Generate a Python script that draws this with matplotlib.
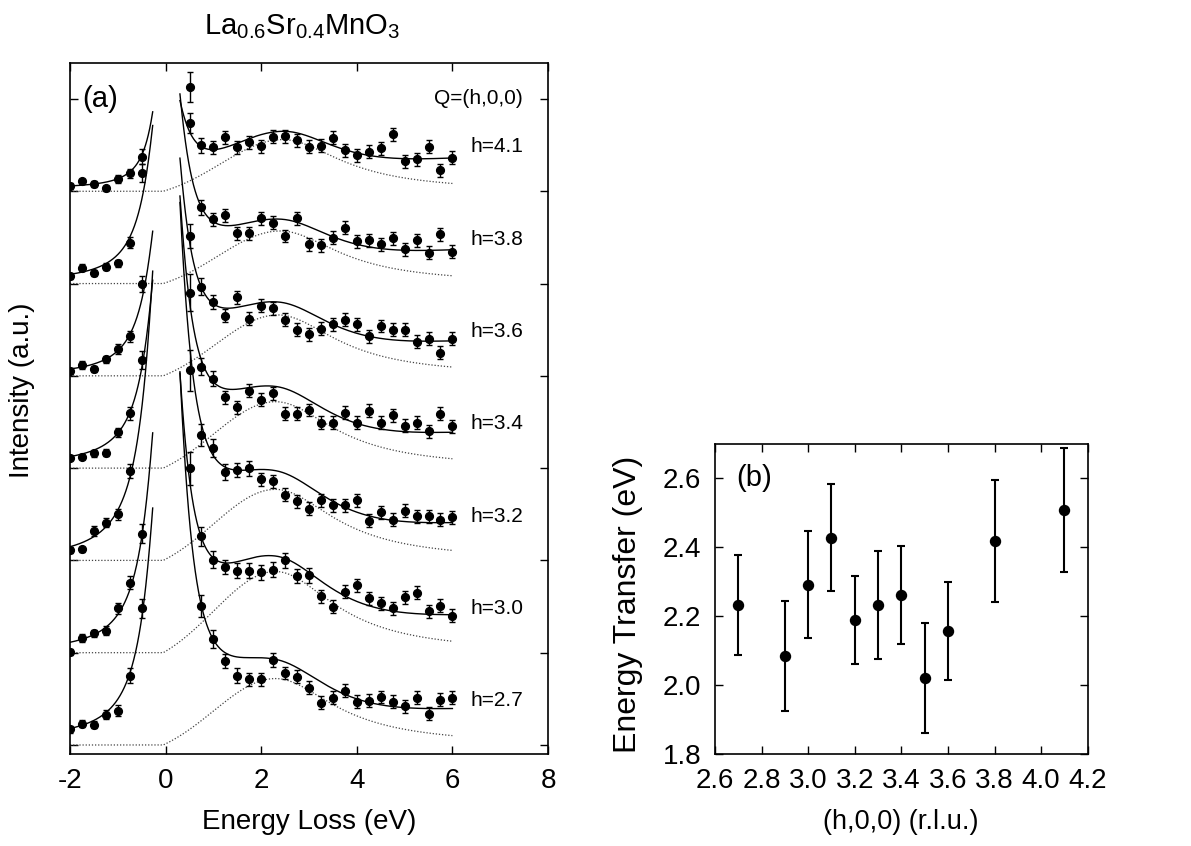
import numpy as np
import matplotlib
matplotlib.use('Agg')
import matplotlib.pyplot as plt

plt.rcParams['font.family'] = ['Liberation Sans', 'DejaVu Sans']
plt.rcParams['mathtext.default'] = 'regular'

# ---------------- Panel (a) data ----------------
h_labels = ['h=4.1', 'h=3.8', 'h=3.6', 'h=3.4', 'h=3.2', 'h=3.0', 'h=2.7']
offsets = [6, 5, 4, 3, 2, 1, 0]

E_left = [-2.0, -1.75, -1.5, -1.25, -1.0, -0.75, -0.5]
E_right = [0.5, 0.75, 1.0, 1.25, 1.5, 1.75, 2.0, 2.25, 2.5, 2.75, 3.0, 3.25,
           3.5, 3.75, 4.0, 4.25, 4.5, 4.75, 5.0, 5.25, 5.5, 5.75, 6.0]

nan = float('nan')
I_left_41 = [0.056, 0.107, 0.078, 0.031, 0.132, 0.194, 0.374]
I_left_38 = [0.081, 0.171, 0.117, 0.182, 0.219, 0.442, 1.20]
I_left_36 = [0.055, 0.117, 0.074, 0.179, 0.29, 0.431, 0.995]
I_left_34 = [0.113, 0.124, 0.16, 0.167, 0.388, 0.594, 1.17]
I_left_32 = [0.113, 0.12, 0.32, 0.41, 0.50, 0.97, nan]
I_left_30 = [0.01, 0.16, 0.21, 0.24, 0.48, 0.76, 1.29]
I_left_27 = [0.17, 0.23, 0.22, 0.33, 0.37, 0.75, 1.48]

I_right_41 = [0.74, 0.50, 0.476, 0.584, 0.476, 0.53, 0.49, 0.59, 0.598, 0.555, 0.482, 0.493,
              0.58, 0.446, 0.392, 0.428, 0.465, 0.62, 0.327, 0.345, 0.482, 0.23, 0.363]
I_right_38 = [2.13, 0.826, 0.696, 0.742, 0.544, 0.544, 0.706, 0.659, 0.515, 0.706, 0.425, 0.414,
              0.496, 0.605, 0.46, 0.471, 0.425, 0.49, 0.374, 0.471, 0.334, 0.536, 0.345]
I_right_36 = [1.52, 0.965, 0.80, 0.65, 0.85, 0.62, 0.76, 0.73, 0.61, 0.50, 0.45, 0.51,
              0.56, 0.61, 0.56, 0.43, 0.54, 0.50, 0.50, 0.37, 0.40, 0.25, 0.40]
I_right_34 = [1.90, 1.10, 0.97, 0.77, 0.66, 0.84, 0.74, 0.81, 0.59, 0.59, 0.63, 0.49,
              0.49, 0.60, 0.49, 0.62, 0.49, 0.575, 0.46, 0.49, 0.40, 0.59, 0.456]
I_right_32 = [2.06, 1.36, 1.22, 0.96, 0.98, 1.00, 0.88, 0.86, 0.71, 0.64, 0.56, 0.65,
              0.60, 0.60, 0.65, 0.43, 0.52, 0.44, 0.54, 0.48, 0.48, 0.44, 0.47]
I_right_30 = [2.00, 1.26, 1.01, 0.93, 0.89, 0.89, 0.87, 0.90, 1.00, 0.83, 0.84, 0.61,
              0.50, 0.66, 0.73, 0.59, 0.535, 0.48, 0.60, 0.65, 0.45, 0.51, 0.40]
I_right_27 = [nan, 1.51, 1.15, 0.91, 0.75, 0.71, 0.71, 0.92, 0.78, 0.74, 0.62, 0.46,
              0.51, 0.59, 0.47, 0.48, 0.52, 0.47, 0.42, 0.51, 0.34, 0.49, 0.51]

err_left_41 = [0.03, 0.03, 0.03, 0.03, 0.04, 0.05, 0.08]
err_left_38 = [0.03, 0.04, 0.03, 0.04, 0.04, 0.06, 0.10]
err_left_36 = [0.03, 0.04, 0.03, 0.04, 0.05, 0.06, 0.09]
err_left_34 = [0.03, 0.03, 0.04, 0.04, 0.05, 0.07, 0.10]
err_left_32 = [0.03, 0.03, 0.05, 0.05, 0.06, 0.08, nan]
err_left_30 = [0.03, 0.04, 0.04, 0.05, 0.06, 0.07, 0.10]
err_left_27 = [0.04, 0.04, 0.04, 0.05, 0.06, 0.08, 0.10]

err_right_41 = [0.11, 0.08, 0.07, 0.07, 0.07, 0.07, 0.07, 0.07, 0.07, 0.07, 0.07, 0.07,
                0.07, 0.07, 0.07, 0.07, 0.07, 0.07, 0.07, 0.07, 0.07, 0.07, 0.07]
err_right_38 = [0.16, 0.08, 0.07, 0.07, 0.07, 0.07, 0.07, 0.07, 0.07, 0.07, 0.07, 0.07,
                0.07, 0.07, 0.07, 0.07, 0.07, 0.07, 0.07, 0.07, 0.07, 0.07, 0.07]
err_right_36 = [0.13, 0.09, 0.08, 0.07, 0.07, 0.07, 0.07, 0.07, 0.07, 0.07, 0.07, 0.07,
                0.07, 0.07, 0.07, 0.07, 0.07, 0.07, 0.07, 0.07, 0.07, 0.07, 0.07]
err_right_34 = [0.20, 0.09, 0.08, 0.07, 0.07, 0.07, 0.07, 0.07, 0.07, 0.07, 0.07, 0.07,
                0.07, 0.07, 0.07, 0.07, 0.07, 0.07, 0.07, 0.07, 0.07, 0.07, 0.07]
err_right_32 = [0.22, 0.12, 0.10, 0.09, 0.08, 0.08, 0.07, 0.07, 0.07, 0.07, 0.07, 0.07,
                0.07, 0.07, 0.07, 0.07, 0.07, 0.07, 0.07, 0.07, 0.07, 0.07, 0.07]
err_right_30 = [0.18, 0.10, 0.09, 0.08, 0.08, 0.08, 0.08, 0.08, 0.08, 0.08, 0.08, 0.07,
                0.07, 0.07, 0.07, 0.07, 0.07, 0.07, 0.07, 0.07, 0.07, 0.07, 0.07]
err_right_27 = [nan, 0.12, 0.10, 0.08, 0.08, 0.07, 0.07, 0.08, 0.07, 0.07, 0.07, 0.07,
                0.07, 0.07, 0.07, 0.07, 0.07, 0.07, 0.07, 0.07, 0.07, 0.07, 0.07]

I_left = [I_left_41, I_left_38, I_left_36, I_left_34, I_left_32, I_left_30, I_left_27]
I_right = [I_right_41, I_right_38, I_right_36, I_right_34, I_right_32, I_right_30, I_right_27]
err_left = [err_left_41, err_left_38, err_left_36, err_left_34, err_left_32, err_left_30, err_left_27]
err_right = [err_right_41, err_right_38, err_right_36, err_right_34, err_right_32, err_right_30, err_right_27]

# fit parameters
fit_elastic_left = [1.8, 2.7, 2.5, 3.2, 5.0, 3.8, 4.0]
fit_width_left = [0.25, 0.35, 0.35, 0.35, 0.35, 0.35, 0.35]
fit_bg_left = [0.03, 0.02, 0.00, 0.03, 0.00, 0.00, 0.06]
fit_elastic_right = [1.55, 3.4, 3.9, 4.9, 6.5, 5.0, 6.8]
fit_peak_height = [0.56, 0.57, 0.66, 0.72, 0.77, 0.88, 0.72]
fit_peak_center = [2.45, 2.4, 2.35, 2.3, 2.3, 2.3, 2.3]
fit_high_energy = [0.30, 0.30, 0.30, 0.30, 0.31, 0.30, 0.30]
fit_bg_right = [0.02, 0.02, 0.02, 0.02, 0.02, 0.02, 0.02]

# ---------------- Panel (b) data ----------------
h_b = [2.7, 2.9, 3.0, 3.1, 3.2, 3.3, 3.4, 3.5, 3.6, 3.8, 4.1]
E_b = [2.233, 2.085, 2.292, 2.428, 2.19, 2.233, 2.261, 2.02, 2.156, 2.418, 2.509]
err_b = [0.145, 0.16, 0.155, 0.155, 0.128, 0.157, 0.143, 0.16, 0.142, 0.177, 0.18]


def lorentz(E, A, G):
    return A * G ** 2 / (E ** 2 + G ** 2)


def feature(E, P, Ec, e0=-0.05, sig=1.3, gam=1.5):
    g = np.exp(-(E - Ec) ** 2 / (2 * sig ** 2))
    g0 = np.exp(-(e0 - Ec) ** 2 / (2 * sig ** 2))
    left = np.clip((g - g0) / (1 - g0), 0, None)
    left = np.where(E > e0, left, 0.0)
    right = gam ** 2 / ((E - Ec) ** 2 + gam ** 2)
    return P * np.where(E < Ec, left, right)


def high_energy(E, C):
    return C * np.exp(-(E - 7.5) ** 2 / (2 * 2.5 ** 2))


W, H = 1191, 846
fig = plt.figure(figsize=(W / 100, H / 100), dpi=100)

# axes (a)
axa = fig.add_axes([70 / W, 1 - 754 / H, 478 / W, 691 / H])
axa.set_xlim(-2, 8)
axa.set_ylim(-0.0975, 7.39)

Ed = np.linspace(-2, 6, 800)
El = np.linspace(-2, -0.27, 300)
Er = np.linspace(0.3, 6, 500)
for i in range(7):
    off = offsets[i]
    dotted = feature(Ed, fit_peak_height[i], fit_peak_center[i])
    axa.plot(Ed, dotted + off, color='#444444', lw=0.9, ls=(0, (1, 1.5)), zorder=2)
    yl = fit_bg_left[i] + lorentz(El, fit_elastic_left[i], fit_width_left[i])
    axa.plot(El, yl + off, color='black', lw=1.0, zorder=3)
    yr = (fit_bg_right[i] + lorentz(Er, fit_elastic_right[i], 0.35)
          + feature(Er, fit_peak_height[i], fit_peak_center[i])
          + high_energy(Er, fit_high_energy[i]))
    axa.plot(Er, yr + off, color='black', lw=1.0, zorder=3)
    xs = E_left + E_right
    ys = np.array(I_left[i] + I_right[i]) + off
    es = np.array(err_left[i] + err_right[i])
    axa.errorbar(xs, ys, yerr=es, fmt='o', color='black', ms=5.6, capsize=2.4,
                 elinewidth=1.0, capthick=1.0, zorder=4)
    axa.text(6.37, off + 0.48, h_labels[i], fontsize=15, ha='left', va='center')

axa.text(7.48, 7.0, 'Q=(h,0,0)', fontsize=15, ha='right', va='center')
axa.text(-1.74, 7.0, '(a)', fontsize=21, ha='left', va='center')

axa.set_xticks([-2, 0, 2, 4, 6, 8])
axa.set_xticklabels(['-2', '0', '2', '4', '6', '8'])
axa.set_yticks(range(8))
axa.set_yticklabels([])
axa.tick_params(direction='in', top=True, right=True, length=6, width=1.0,
                labelsize=20, pad=10)
for sp in axa.spines.values():
    sp.set_linewidth(1.2)

fig.text(309 / W, 1 - 822 / H, 'Energy Loss (eV)', fontsize=20, ha='center', va='center')
fig.text(22 / W, 1 - 390 / H, 'Intensity (a.u.)', fontsize=20, ha='center', va='center',
         rotation=90)
fig.text(302 / W, 1 - 27 / H, r'La$_{0.6}$Sr$_{0.4}$MnO$_{3}$', fontsize=21,
         ha='center', va='center')

# axes (b)
axb = fig.add_axes([715 / W, 1 - 754 / H, 372.7 / W, 310 / H])
axb.errorbar(h_b, E_b, yerr=err_b, fmt='o', color='black', ms=7.2, capsize=3.0,
             elinewidth=1.5, capthick=1.5, zorder=3)
axb.set_xlim(2.6, 4.2)
axb.set_ylim(1.8, 2.7)
axb.set_xticks(np.arange(2.6, 4.21, 0.2))
axb.set_xticklabels(['2.6', '2.8', '3.0', '3.2', '3.4', '3.6', '3.8', '4.0', '4.2'])
axb.set_yticks([1.8, 2.0, 2.2, 2.4, 2.6])
axb.set_yticklabels(['1.8', '2.0', '2.2', '2.4', '2.6'])
axb.tick_params(direction='in', top=True, right=True, length=6, width=1.0,
                labelsize=20, pad=10)
for sp in axb.spines.values():
    sp.set_linewidth(1.2)
axb.text(0.105, 0.89, '(b)', transform=axb.transAxes, fontsize=21, ha='center', va='center')
fig.text(901 / W, 1 - 822 / H, '(h,0,0) (r.l.u.)', fontsize=19.5, ha='center', va='center')
fig.text(628 / W, 1 - 604 / H, 'Energy Transfer (eV)', fontsize=23, ha='center',
         va='center', rotation=90)

fig.savefig('out.png', dpi=100)
